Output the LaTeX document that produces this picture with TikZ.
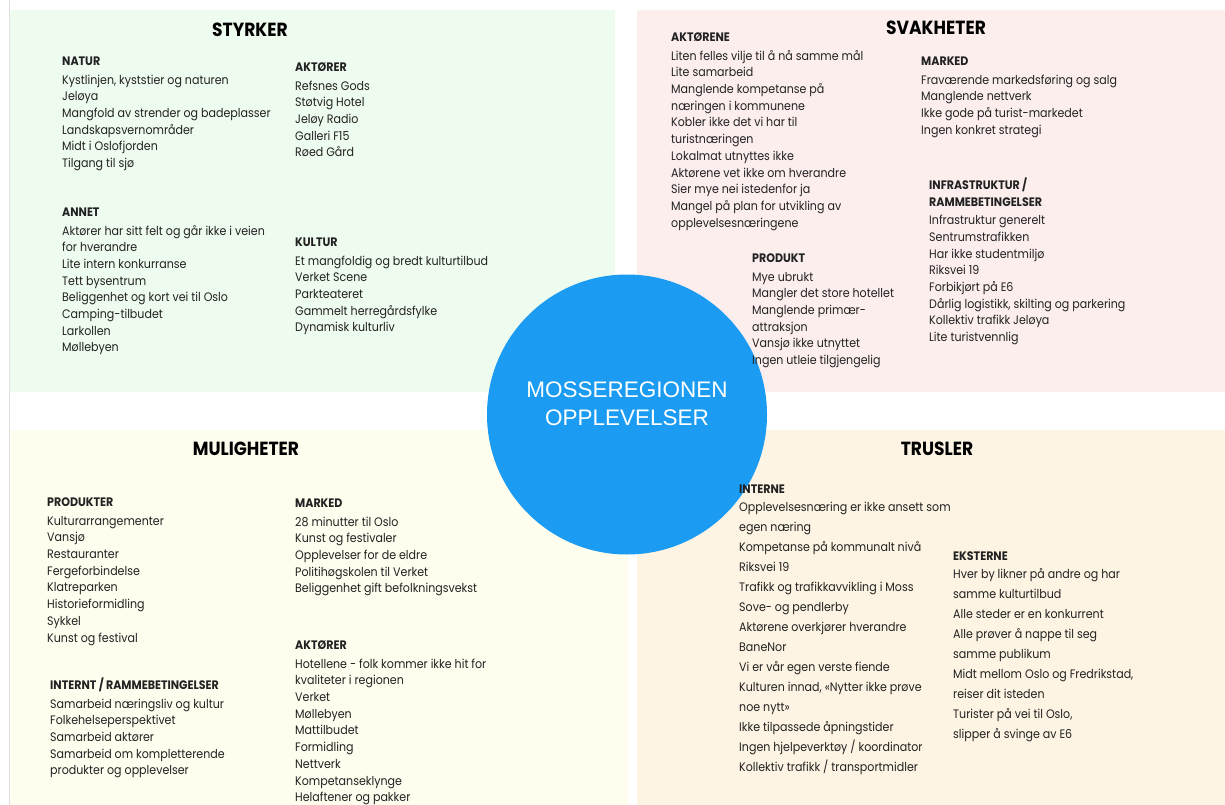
\documentclass[tikz,border=0pt]{standalone}
\usepackage{fontspec}
\setmainfont{Poppins}[FakeStretch=0.9]
\newfontfamily\circfont{Liberation Sans}
\definecolor{bgS}{HTML}{EEFBEF}
\definecolor{bgW}{HTML}{FDEEEE}
\definecolor{bgO}{HTML}{FFFDEE}
\definecolor{bgT}{HTML}{FDF4E3}
\definecolor{circ}{HTML}{1B9CF2}
\definecolor{txt}{HTML}{222222}
\tikzset{
  panel/.style={fill=#1, draw=none},
  blk/.style={anchor=north west, inner sep=0pt, align=left, text=txt,
    font=\fontsize{12.3}{16.7}\selectfont},
  blkwide/.style={blk, font=\fontsize{12.3}{20}\selectfont},
  ttl/.style={anchor=center, inner sep=0pt, text=black,
    font=\fontsize{19}{22}\selectfont\bfseries},
}
\newcommand{\hd}[1]{\textbf{#1}}
\begin{document}
\begin{tikzpicture}[x=1pt,y=-1pt]
\useasboundingbox (0,0) rectangle (1225,805);
\fill[white] (0,0) rectangle (1225,805);
% panels
\fill[panel=bgS] (10,10) rectangle (615,392);
\fill[panel=bgW] (637,10) rectangle (1225,392);
\fill[panel=bgO] (10,430) rectangle (628,805);
\fill[panel=bgT] (637,430) rectangle (1225,805);
\draw[black!12, line width=0.8pt] (9,0) -- (9,805);
% circle
\node[circle, fill=circ, minimum size=280pt, inner sep=0pt] (core) at (627,414.5) {};
\node[text=white, align=center, inner sep=0pt,
  font=\circfont\fontsize{22.5}{28}\selectfont] (coretext) at (627,404) {MOSSEREGIONEN\\OPPLEVELSER};
% titles
\node[ttl] (tS) at (250,30) {STYRKER};
\node[ttl] (tW) at (936,28) {SVAKHETER};
\node[ttl] (tO) at (246,449) {MULIGHETER};
\node[ttl] (tT) at (937,449) {TRUSLER};
% STYRKER
\node[blk] (natur) at (62,57) {\hd{NATUR}\\[1.5pt]
Kystlinjen, kyststier og naturen\\
Jeløya\\
Mangfold av strender og badeplasser\\
Landskapsvernområder\\
Midt i Oslofjorden\\
Tilgang til sjø};
\node[blk] (aktS) at (295,63) {\hd{AKTØRER}\\[1.5pt]
Refsnes Gods\\
Støtvig Hotel\\
Jeløy Radio\\
Galleri F15\\
Røed Gård};
\node[blk] (annet) at (62,208) {\hd{ANNET}\\[1.5pt]
Aktører har sitt felt og går ikke i veien\\
for hverandre\\
Lite intern konkurranse\\
Tett bysentrum\\
Beliggenhet og kort vei til Oslo\\
Camping-tilbudet\\
Larkollen\\
Møllebyen};
\node[blk] (kultur) at (295,238) {\hd{KULTUR}\\[1.5pt]
Et mangfoldig og bredt kulturtilbud\\
Verket Scene\\
Parkteateret\\
Gammelt herregårdsfylke\\
Dynamisk kulturliv};
% SVAKHETER
\node[blk] (aktW) at (671,33) {\hd{AKTØRENE}\\[1.5pt]
Liten felles vilje til å nå samme mål\\
Lite samarbeid\\
Manglende kompetanse på\\
næringen i kommunene\\
Kobler ikke det vi har til\\
turistnæringen\\
Lokalmat utnyttes ikke\\
Aktørene vet ikke om hverandre\\
Sier mye nei istedenfor ja\\
Mangel på plan for utvikling av\\
opplevelsesnæringene};
\node[blk] (markW) at (921,57) {\hd{MARKED}\\[1.5pt]
Fraværende markedsføring og salg\\
Manglende nettverk\\
Ikke gode på turist-markedet\\
Ingen konkret strategi};
\node[blk] (infra) at (929,178) {\hd{INFRASTRUKTUR /}\\
\hd{RAMMEBETINGELSER}\\[1.5pt]
Infrastruktur generelt\\
Sentrumstrafikken\\
Har ikke studentmiljø\\
Riksvei 19\\
Forbikjørt på E6\\
Dårlig logistikk, skilting og parkering\\
Kollektiv trafikk Jeløya\\
Lite turistvennlig};
\node[blk] (prod) at (752,254) {\hd{PRODUKT}\\[1.5pt]
Mye ubrukt\\
Mangler det store hotellet\\
Manglende primær-\\
attraksjon\\
Vansjø ikke utnyttet\\
Ingen utleie tilgjengelig};
% MULIGHETER
\node[blk] (prodO) at (47,498) {\hd{PRODUKTER}\\[1.5pt]
Kulturarrangementer\\
Vansjø\\
Restauranter\\
Fergeforbindelse\\
Klatreparken\\
Historieformidling\\
Sykkel\\
Kunst og festival};
\node[blk] (intern) at (50,678) {\hd{INTERNT / RAMMEBETINGELSER}\\[1.5pt]
Samarbeid næringsliv og kultur\\
Folkehelseperspektivet\\
Samarbeid aktører\\
Samarbeid om kompletterende\\
produkter og opplevelser};
\node[blk] (markO) at (295,499) {\hd{MARKED}\\[1.5pt]
28 minutter til Oslo\\
Kunst og festivaler\\
Opplevelser for de eldre\\
Politihøgskolen til Verket\\
Beliggenhet gift befolkningsvekst};
\node[blk] (aktO) at (295,641) {\hd{AKTØRER}\\[1.5pt]
Hotellene - folk kommer ikke hit for\\
kvaliteter i regionen\\
Verket\\
Møllebyen\\
Mattilbudet\\
Formidling\\
Nettverk\\
Kompetanseklynge\\
Helaftener og pakker};
% TRUSLER
\node[blkwide] (interne) at (739,485) {\hd{INTERNE}\\[-2pt]
Opplevelsesnæring er ikke ansett som\\
egen næring\\
Kompetanse på kommunalt nivå\\
Riksvei 19\\
Trafikk og trafikkavvikling i Moss\\
Sove- og pendlerby\\
Aktørene overkjører hverandre\\
BaneNor\\
Vi er vår egen verste fiende\\
Kulturen innad, «Nytter ikke prøve\\
noe nytt»\\
Ikke tilpassede åpningstider\\
Ingen hjelpeverktøy / koordinator\\
Kollektiv trafikk / transportmidler};
\node[blkwide] (eksterne) at (953,552) {\hd{EKSTERNE}\\[-2pt]
Hver by likner på andre og har\\
samme kulturtilbud\\
Alle steder er en konkurrent\\
Alle prøver å nappe til seg\\
samme publikum\\
Midt mellom Oslo og Fredrikstad,\\
reiser dit isteden\\
Turister på vei til Oslo,\\
slipper å svinge av E6};
\end{tikzpicture}
\end{document}
